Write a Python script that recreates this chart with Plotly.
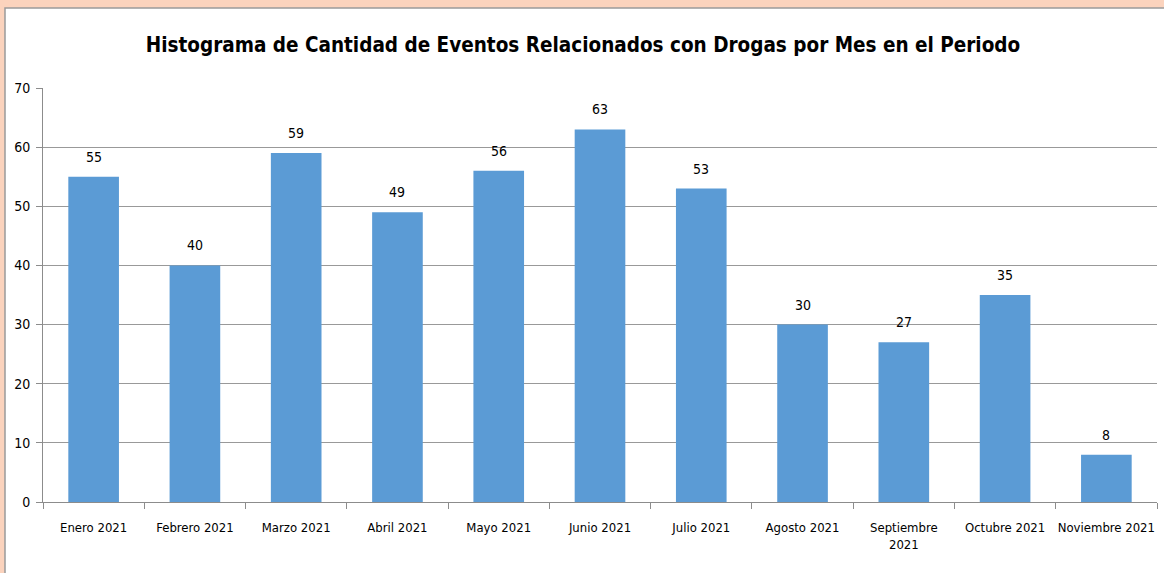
import plotly.graph_objects as go

months = ["Enero 2021", "Febrero 2021", "Marzo 2021", "Abril 2021", "Mayo 2021",
          "Junio 2021", "Julio 2021", "Agosto 2021", "Septiembre<br>2021",
          "Octubre 2021", "Noviembre 2021"]
eventos = [55, 40, 59, 49, 56, 63, 53, 30, 27, 35, 8]
y_ticks = [0, 10, 20, 30, 40, 50, 60, 70]

FONT = "Liberation Sans Narrow, Arial Narrow, DejaVu Sans Condensed, sans-serif"
W, H = 1164, 573
ML, MR, MT, MB = 43, 7, 88, 71
pw, ph = W - ML - MR, H - MT - MB

fig = go.Figure(go.Bar(
    x=months, y=eventos,
    width=0.5,
    marker=dict(color="#5B9BD5", line=dict(width=0)),
    hoverinfo="x+y",
))

# value labels above each bar
for m, v in zip(months, eventos):
    fig.add_annotation(x=m, y=v, text=str(v), showarrow=False,
                       yanchor="middle", yshift=20,
                       font=dict(family=FONT, size=14, color="#000000"))

# white chart panel with thin grey frame over the peach backdrop
fig.add_shape(type="rect", xref="paper", yref="paper", layer="below",
              x0=(5 - ML) / pw, x1=(W + 5 - ML) / pw,
              y0=1 - (H + 5 - MT) / ph, y1=1 + (MT - 8) / ph,
              fillcolor="#ffffff", line=dict(color="#9a9a9a", width=1.5))

fig.update_layout(
    width=W, height=H,
    margin=dict(l=ML, r=MR, t=MT, b=MB),
    paper_bgcolor="#fbd3bd",
    plot_bgcolor="rgba(0,0,0,0)",
    showlegend=False,
    title=dict(text="<b>Histograma de Cantidad de Eventos Relacionados con Drogas por Mes en el Periodo</b>",
               x=583 / W, xanchor="center", y=1 - 45 / H, yanchor="middle",
               font=dict(family=FONT, size=20.5, color="#000000")),
    font=dict(family=FONT, size=13, color="#000000"),
    bargap=0.5,
)
fig.update_xaxes(
    type="category", tickson="boundaries", ticks="outside", ticklen=6,
    tickcolor="#8c8c8c", showline=True, linecolor="#8c8c8c", linewidth=1,
    showgrid=False, tickfont=dict(family=FONT, size=13), tickangle=0,
    ticklabelstandoff=13,
)
fig.update_yaxes(
    range=[0, 70], tickvals=y_ticks, ticks="outside", ticklen=6,
    tickcolor="#8c8c8c", showline=True, linecolor="#8c8c8c", linewidth=1,
    showgrid=True, gridcolor="#999999", gridwidth=1, zeroline=False,
    tickfont=dict(family=FONT, size=14), ticklabelstandoff=3,
)

fig.write_html("out.html")
